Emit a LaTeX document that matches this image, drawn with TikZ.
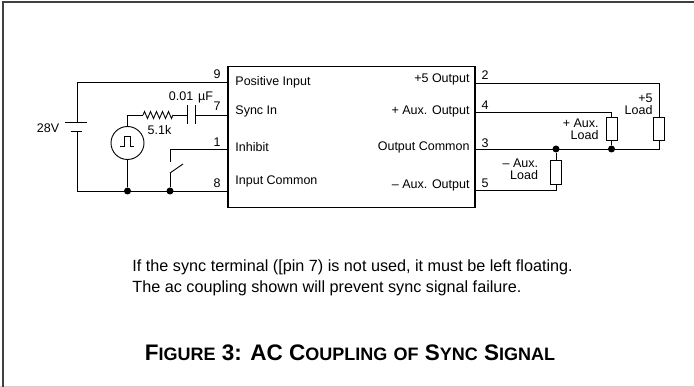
\documentclass[tikz,border=0pt]{standalone}
\usepackage{fontspec}
\setmainfont{Liberation Sans}
\usetikzlibrary{decorations.pathmorphing}
\usetikzlibrary{calc}
\newcommand{\capword}[2]{{\fontsize{22.5}{26}\selectfont #1}{\fontsize{18}{26}\selectfont #2}}
\tikzset{
  lbl/.style={inner sep=0pt, font=\fontsize{12.5}{12}\selectfont},
  loadlbl/.style={inner sep=0pt, anchor=east, align=right, font=\fontsize{12.5}{12}\selectfont},
  loadres/.style={draw, fill=white, minimum width=11pt, minimum height=23pt, inner sep=0pt},
  jdot/.style={circle, fill=black, minimum size=7pt, inner sep=0pt},
}

\begin{document}
\begin{tikzpicture}[x=1pt, y=-1pt, line width=.9pt]
  \useasboundingbox (0,0) rectangle (694,387);
  % frame
  \draw[gray!35, line width=1.2pt] (0,386.2) -- (694,386.2);
  \draw[black!75, line width=1.6pt] (2.8,387) -- (2.8,2.3) -- (694,2.3);

  % module and pins
  \node[draw, line width=1.1pt, minimum width=247pt, minimum height=141pt, inner sep=0pt] (mod) at (351.5,137) {};
  \coordinate (p9) at (228,82);
  \coordinate (p7) at (228,115);
  \coordinate (p1) at (228,149);
  \coordinate (p8) at (228,191);
  \coordinate (q2) at (475,83);
  \coordinate (q4) at (475,112);
  \coordinate (q3) at (475,149);
  \coordinate (q5) at (475,190);
  \node[lbl, anchor=west] (tPos) at (235,82) {Positive Input};
  \node[lbl, anchor=west] (tSync) at (235,111) {Sync In};
  \node[lbl, anchor=west] (tInh) at (235,147) {Inhibit};
  \node[lbl, anchor=west] (tInC) at (235,181) {Input Common};
  \node[lbl, anchor=east] (tOut5) at (470,79) {+5 Output};
  \node[lbl, anchor=east] (tOutA) at (470,111) {+ Aux. Output};
  \node[lbl, anchor=east] (tOutC) at (470,147) {Output Common};
  \node[lbl, anchor=east] (tOutB) at (470,185) {-- Aux. Output};
  \foreach \num/\pos in {9/74, 7/106, 1/142, 8/183}
    \node[lbl] (n\num) at (217,\pos) {\num};
  \foreach \num/\pos in {2/75, 4/105, 3/143, 5/183}
    \node[lbl] (n\num) at (485,\pos) {\num};

  % input side
  \coordinate (bt) at (77,122.5);
  \coordinate (bb) at (77,131);
  \draw (p9) -| (bt);
  \draw (p8) -| (bb);
  \draw (65,122.5) -- (87,122.5);
  \draw (70.5,131) -- (81.5,131);
  \node[lbl] (vbat) at (48,128) {28V};

  \node[circle, draw, minimum size=33pt, inner sep=0pt] (src) at (127.5,143) {};
  \draw[line width=.8pt] ($(src)+(-7.5,3)$) -- ++(4,0) -- ++(0,-10) -- ++(6,0) -- ++(0,10) -- ++(4,0);
  \coordinate (rA) at (143,115);
  \coordinate (rB) at (173,115);
  \coordinate (cA) at (187,115);
  \coordinate (cB) at (195,115);
  \draw (src.north) |- (rA);
  \draw (rA) decorate[decoration={zigzag, segment length=6pt, amplitude=3.5pt}] {-- (rB)};
  \draw (rB) -- (cA);
  \draw (cB) -- (p7);
  \draw ($(cA)+(0,-9.5)$) -- ($(cA)+(0,9.5)$);
  \draw ($(cB)+(0,-9.5)$) -- ($(cB)+(0,9.5)$);
  \node[lbl] (rval) at (159.5,130) {5.1k};
  \node[lbl] (cval) at (191,97) {0.01\hspace{5pt}µF};

  \node[jdot] (d1) at (127.5,191) {};
  \node[jdot] (d2) at (170,191) {};
  \draw (src.south) -- (d1);
  \coordinate (sw1) at (170,162);
  \coordinate (sw2) at (170,173);
  \coordinate (swt) at (183,164);
  \draw (p1) -| (sw1);
  \draw (sw2) -- (swt);
  \draw (sw2) -- (d2);

  % output side
  \node[loadres] (L5) at (659,128.5) {};
  \node[loadres] (LA) at (611.5,128.5) {};
  \node[loadres, minimum height=24pt] (LB) at (556,172) {};
  \node[jdot] (dA) at (LA |- q3) {};
  \node[jdot] (dB) at (LB |- q3) {};
  \draw (q2) -| (L5.north);
  \draw (q3) -| (L5.south);
  \draw (q4) -| (LA.north);
  \draw (LA.south) -- (dA);
  \draw (q5) -| (LB.south);
  \draw (LB.north) -- (dB);
  \node[loadlbl] (l5) at (653,104) {+5\\Load};
  \node[loadlbl] (lA) at (599,129.5) {+ Aux.\\Load};
  \node[loadlbl] (lB) at (538.5,169) {-- Aux.\\Load};

  % text
  \node[anchor=west, align=left, inner sep=0pt, font=\fontsize{16.2}{20.5}\selectfont] (note) at (132,278)
    {If the sync terminal ([pin 7) is not used, it must be left floating.\\The ac coupling shown will prevent sync signal failure.};
  \node[inner sep=0pt, font=\fontsize{22.5}{26}\selectfont\bfseries] (title) at (350,353)
    {\capword{F}{IGURE} 3: AC \capword{C}{OUPLING} \capword{}{OF} \capword{S}{YNC} \capword{S}{IGNAL}};
\end{tikzpicture}
\end{document}
